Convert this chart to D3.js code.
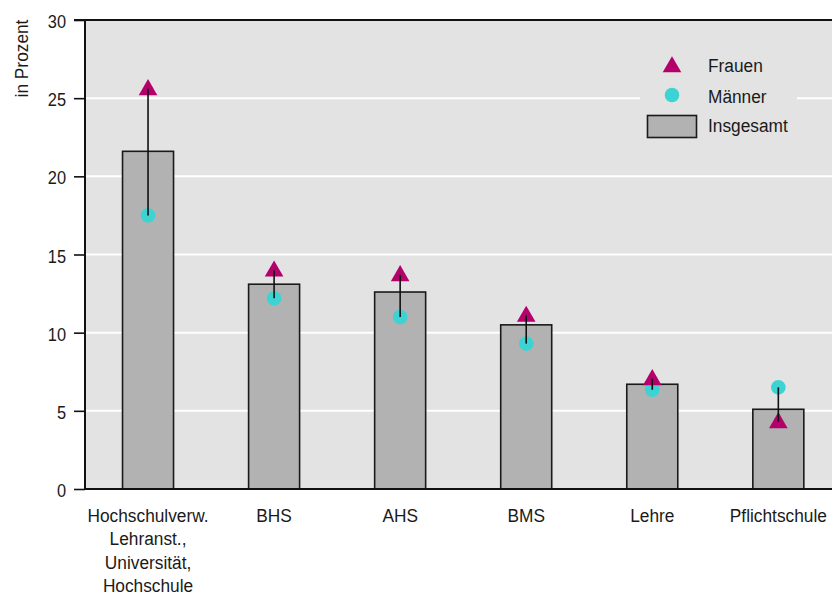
<!DOCTYPE html>
<html><head><meta charset="utf-8">
<script src="https://cdn.jsdelivr.net/npm/d3@7"></script>
<style>body{margin:0;background:#fff}svg{display:block}text{font-family:"Liberation Sans",Arial,sans-serif;fill:#1a1a1a}</style>
</head><body>
<script>
const categories = [["Hochschulverw.","Lehranst.,","Universität,","Hochschule"],["BHS"],["AHS"],["BMS"],["Lehre"],["Pflichtschule"]];
const insgesamt = [21.6, 13.1, 12.6, 10.5, 6.7, 5.1];
const frauen = [25.6, 14.0, 13.7, 11.1, 7.05, 4.3];
const maenner = [17.5, 12.2, 11.0, 9.3, 6.35, 6.5];
const yTicks = [0, 5, 10, 15, 20, 25, 30];
const legendLabels = ["Frauen", "Männer", "Insgesamt"];

const W = 832, H = 597;
const L = 85, R = 832, T = 20, B = 489;
const SX = 0.91, FS = 19;
const svg = d3.select("body").append("svg").attr("width", W).attr("height", H);
const ids = categories.map((c, i) => i);
const step = 126.06, p = 1 - 51 / step;
const x = d3.scaleBand().domain(ids).range([L, L + 6 * step]).paddingInner(p).paddingOuter(p / 2);
const y = d3.scaleLinear().domain([0, 30]).range([B, T]);

svg.append("rect").attr("x", L).attr("y", T).attr("width", R - L).attr("height", B - T).attr("fill", "#e3e3e3");
svg.append("g").selectAll("line").data(yTicks.filter(d => d > 0 && d < 30)).join("line")
  .attr("x1", L).attr("x2", R).attr("y1", d => y(d)).attr("y2", d => y(d))
  .attr("stroke", "#fff").attr("stroke-width", 2);

// legend background
svg.append("rect").attr("x", 640).attr("y", 48).attr("width", 157).attr("height", 96).attr("fill", "#e3e3e3");

// bars
svg.append("g").selectAll("rect").data(insgesamt).join("rect")
  .attr("x", (d, i) => x(i)).attr("width", x.bandwidth())
  .attr("y", d => y(d)).attr("height", d => B - y(d))
  .attr("fill", "#b2b2b2").attr("stroke", "#1a1a1a").attr("stroke-width", 1.6);

const cx = i => x(i) + x.bandwidth() / 2;
const tri = d3.symbol().type(d3.symbolTriangle).size(150);
svg.append("g").selectAll("circle").data(maenner).join("circle")
  .attr("cx", (d, i) => cx(i)).attr("cy", d => y(d)).attr("r", 7.3).attr("fill", "#3dd3d3");
svg.append("g").selectAll("path").data(frauen).join("path")
  .attr("d", tri).attr("transform", (d, i) => `translate(${cx(i)},${y(d) + 1})`).attr("fill", "#b3006b");
svg.append("g").selectAll("line").data(frauen).join("line")
  .attr("x1", (d, i) => cx(i)).attr("x2", (d, i) => cx(i))
  .attr("y1", d => y(d)).attr("y2", (d, i) => y(maenner[i]))
  .attr("stroke", "#111").attr("stroke-width", 1.6);

// axes
const yAxis = svg.append("g").attr("transform", `translate(${L},0)`)
  .call(d3.axisLeft(y).tickValues(yTicks).tickSize(11).tickPadding(8));
yAxis.select(".domain").remove();
yAxis.selectAll(".tick line").attr("stroke", "#111").attr("stroke-width", 1.6);
yAxis.selectAll(".tick text").attr("font-size", 18).attr("fill", "#1a1a1a")
  .attr("font-family", "Liberation Sans, Arial, sans-serif")
  .attr("x", -19 / SX).attr("dy", "0.42em").attr("transform", `scale(${SX},1)`);
svg.append("line").attr("x1", L).attr("x2", L).attr("y1", T).attr("y2", B).attr("stroke", "#111").attr("stroke-width", 2);
svg.append("line").attr("x1", 74).attr("x2", R).attr("y1", T).attr("y2", T).attr("stroke", "#111").attr("stroke-width", 2.2);
svg.append("line").attr("x1", L).attr("x2", R).attr("y1", B).attr("y2", B).attr("stroke", "#111").attr("stroke-width", 2);

// x labels
const xl = svg.append("g").selectAll("g").data(categories).join("g")
  .attr("transform", (d, i) => `translate(${cx(i)},522) scale(${SX},1)`)
  .append("text").attr("text-anchor", "middle").attr("font-size", FS);
xl.selectAll("tspan").data(d => d).join("tspan")
  .attr("x", 0).attr("dy", (d, j) => j === 0 ? 0 : 23.3).text(d => d);

svg.append("text").attr("transform", `translate(28,58.5) rotate(-90) scale(${SX},1)`).attr("text-anchor", "middle")
  .attr("font-size", FS).text("in Prozent");

// legend
const lg = svg.append("g");
lg.append("path").attr("d", tri).attr("transform", "translate(672,67)").attr("fill", "#b3006b");
lg.append("circle").attr("cx", 672).attr("cy", 95).attr("r", 7.3).attr("fill", "#3dd3d3");
lg.append("rect").attr("x", 647.5).attr("y", 115.5).attr("width", 49).attr("height", 22)
  .attr("fill", "#b2b2b2").attr("stroke", "#1a1a1a").attr("stroke-width", 1.6);
lg.selectAll("g").data(legendLabels).join("g")
  .attr("transform", (d, i) => `translate(708,${[71.7, 103, 132.3][i]}) scale(${SX},1)`)
  .append("text").attr("font-size", FS).text(d => d);
</script>
</body></html>
